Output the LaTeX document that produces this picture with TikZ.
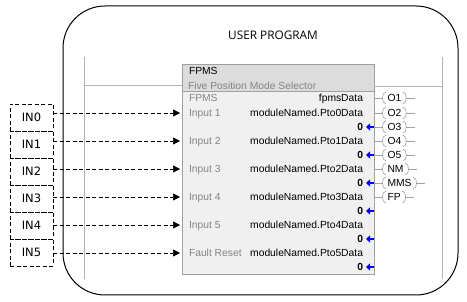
\documentclass[tikz,border=0pt]{standalone}
\usepackage{fontspec}
\setmainfont{Liberation Sans}
\newfontfamily\titlefont{Open Sans}
\newfontfamily\boxfont{DejaVu Sans}
\usetikzlibrary{arrows.meta,calc}
\definecolor{railgray}{HTML}{B4B4B4}
\definecolor{pingray}{HTML}{A0A0A0}
\definecolor{labgray}{HTML}{848484}
\definecolor{hdrfill}{HTML}{DCDCDC}
\definecolor{bodyfill}{HTML}{F0F0F0}
\definecolor{pinblue}{HTML}{0000FF}
\begin{document}
\begin{tikzpicture}[x=1pt,y=-1pt,
  every node/.style={inner sep=0pt,outer sep=0pt},
  blkfont/.style={font=\fontsize{10.3}{12}\selectfont,text height=7.5pt,text depth=0pt},
  lbl/.style={blkfont,anchor=west,text=labgray},
  val/.style={blkfont,anchor=east,text=black},
  zero/.style={blkfont,anchor=east,text=black,font=\fontsize{10.3}{12}\selectfont\bfseries},
  dashline/.style={dash pattern=on 4pt off 2.5pt},
  inbox/.style={draw,dashline,minimum width=43pt,minimum height=27pt,
    font=\boxfont\fontsize{11.5}{13}\selectfont},
  coil/.style={anchor=west,inner xsep=4.5pt,minimum height=12pt,text height=7.5pt,text depth=0pt,
    font=\fontsize{10.3}{12}\selectfont},
  paren/.style={draw=pingray,line width=0.6pt},
  lead/.style={draw=pingray,line width=0.6pt},
  rail/.style={draw=railgray,line width=0.8pt},
  inarrow/.style={dashline,line width=0.7pt,-{Triangle[length=7pt,width=7pt]}},
  bluepin/.style={draw=pinblue,line width=2.2pt,-{Triangle[length=4pt,width=7pt]}}
]
\useasboundingbox (0,0) rectangle (467,302);

% outer frame
\draw[line width=1pt,rounded corners=42pt] (63,6) rectangle (458,295);
\node[font=\titlefont\fontsize{11.8}{14}\selectfont] (title) at (273,35) {USER PROGRAM};

% rails
\coordinate (lrailtop) at (84,57);
\coordinate (lrailbot) at (84,279);
\coordinate (rrailtop) at (442,57);
\coordinate (rrailbot) at (442,279);
\draw[rail] (lrailtop) -- (lrailbot);
\draw[rail] (rrailtop) -- (rrailbot);

% block
\node[draw=pingray,fill=bodyfill,minimum width=192pt,minimum height=210pt,anchor=north west] (blk) at (182,64) {};
\fill[hdrfill] (blk.north west) rectangle ($(blk.north east)+(0,27)$);
\draw[pingray,line width=0.8pt] (blk.north west) rectangle (blk.south east);
\draw[pingray,line width=0.8pt] ($(blk.north west)+(0,27)$) -- ($(blk.north east)+(0,27)$);

% rungs
\coordinate (lrung) at (84,85);
\coordinate (rrung) at (442,86);
\draw[rail] (lrung) -- (lrung -| blk.west);
\draw[rail] (rrung -| blk.east) -- (rrung);

% header texts
\node[blkfont,anchor=west,text=black] (hdr) at (189,71) {FPMS};
\node[lbl] (sub) at (188,86) {Five Position Mode Selector};

% rows
\node[lbl] (l0) at (189,98) {FPMS};
\node[val] (v0) at (363,98) {fpmsData};
\foreach \i/\y in {1/113,2/141,3/169,4/197,5/225}{
  \node[lbl] (l\i) at (189,\y) {Input \i};
}
\node[lbl] (l6) at (189,253) {Fault Reset};
\foreach \k/\y in {0/113,1/141,2/169,3/197,4/225,5/253}{
  \node[val] (p\k) at (363,\y) {moduleNamed.Pto\k Data};
}
\foreach \k/\y in {1/127,2/155,3/183,4/211,5/239,6/267}{
  \node[zero] (z\k) at (363,\y) {0};
  \draw[bluepin] (blk.east |- z\k) -- ++(-8,0);
}

% input boxes
\foreach \k in {0,...,5}{
  \node[inbox] (in\k) at (31.5,{117.5+27*\k}) {IN\k};
}
% input pins
\foreach \k/\y in {0/113,1/141,2/169,3/197,4/225,5/253}{
  \coordinate (pin\k) at (180,\y);
  \draw[inarrow] (in\k.east |- pin\k) -- (pin\k);
}

% output coils
\foreach \n/\t/\y in {c1/O1/98,c2/O2/113,c3/O3/127,c4/O4/141,c5/O5/155,c6/NM/169,c7/MMS/183,c8/FP/197}{
  \node[coil] (\n) at (383,\y) {\t};
  \draw[paren] ([xshift=3pt]\n.north west) to[out=180,in=180] ([xshift=3pt]\n.south west);
  \draw[paren] ([xshift=-3pt]\n.north east) to[out=0,in=0] ([xshift=-3pt]\n.south east);
  \draw[lead] (blk.east |- \n) -- (\n.west);
  \draw[lead] (\n.east) -- ++(9,0);
}
\end{tikzpicture}
\end{document}
